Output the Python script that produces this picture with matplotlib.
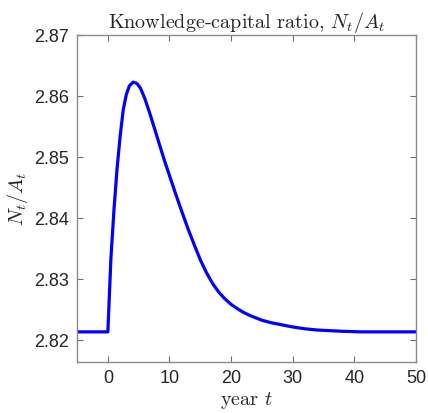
import numpy as np
import matplotlib
matplotlib.use("Agg")
import matplotlib.pyplot as plt

# --- data ---
years = [-5, 0, 0.5, 1.0, 1.5, 2.0, 2.5, 3.0, 3.5, 4.1, 4.7, 5.3, 6.0, 6.8, 7.6,
         8.4, 9.2, 10.0, 11.0, 12.0, 13.0, 14.0, 15.0, 16.0, 17.0, 18.0, 19.0,
         20.0, 21.0, 22.0, 23.0, 24.0, 25.0, 26.5, 28.0, 30.0, 32.0, 34.0, 36.0,
         38.0, 41.0, 45.0, 50.0]
ratio = [2.8214, 2.8214, 2.8335, 2.8415, 2.8482, 2.8535, 2.8578, 2.8603, 2.8617,
         2.8623, 2.8621, 2.8613, 2.8596, 2.8572, 2.8546, 2.8520, 2.8494, 2.8470,
         2.8440, 2.8411, 2.8383, 2.8357, 2.8332, 2.8311, 2.8293, 2.8279, 2.8268,
         2.8259, 2.8252, 2.8246, 2.8241, 2.8237, 2.8233, 2.8229, 2.8226, 2.8222,
         2.8219, 2.8217, 2.8216, 2.8215, 2.8214, 2.8214, 2.8214]
xticks = [0, 10, 20, 30, 40, 50]
yticks = [2.82, 2.83, 2.84, 2.85, 2.86, 2.87]

plt.rcParams['mathtext.fontset'] = 'cm'

fig = plt.figure(figsize=(4.28, 4.13), dpi=100)
ax = fig.add_axes([0.180, 0.124, 0.792, 0.791])

ax.plot(years, ratio, color=(0, 0, 1), lw=2.3, solid_joinstyle='round')

ax.set_xlim(-5, 50)
ax.set_ylim(2.8165, 2.87)
ax.set_xticks(xticks)
ax.set_yticks(yticks)
ax.set_yticklabels([f"{v:.2f}" for v in yticks])

for lab in ax.get_xticklabels() + ax.get_yticklabels():
    lab.set_fontfamily(['Liberation Sans', 'DejaVu Sans'])
    lab.set_fontsize(13)
    lab.set_color('#262626')

ax.tick_params(direction='in', length=4, width=0.8, color='#6e6e6e',
               top=True, right=True, pad=6)
for s in ax.spines.values():
    s.set_color('#8a8a8a')
    s.set_linewidth(1.0)

serif = ['cmr10', 'DejaVu Serif']
ax.set_title(r"Knowledge-capital ratio, $N_t/A_t$", fontsize=14.5,
             family=serif, color='#262626', pad=5)
ax.set_xlabel(r"year $t$", fontsize=14.5, family=serif, color='#262626',
              labelpad=2)
ax.set_ylabel(r"$N_t/A_t$", fontsize=14.5, color='#262626', labelpad=3)

fig.savefig("out.png", dpi=100)
